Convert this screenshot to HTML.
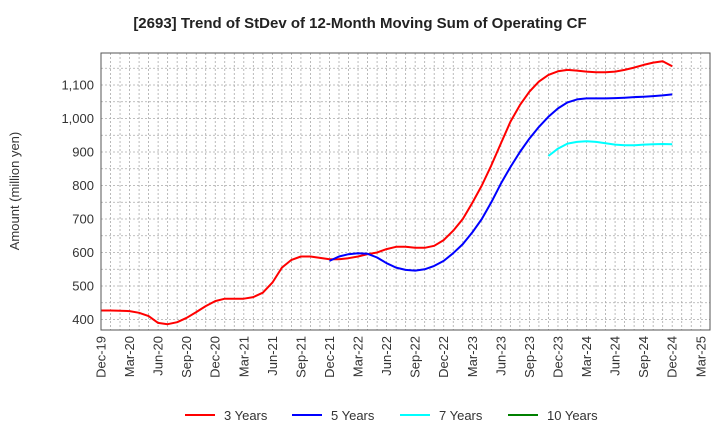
<!DOCTYPE html>
<html><head><meta charset="utf-8"><style>
body{margin:0;background:#fff;font-family:"Liberation Sans",Arial,sans-serif;}
svg text{font-family:"Liberation Sans",Arial,sans-serif;}
</style></head><body>
<svg id="chart" width="720" height="440" viewBox="0 0 720 440" xmlns="http://www.w3.org/2000/svg">
<text x="360" y="28" text-anchor="middle" font-size="15" font-weight="bold" fill="#222">[2693]  Trend of StDev of 12-Month Moving Sum of Operating CF</text>
<text transform="translate(19,191) rotate(-90)" text-anchor="middle" font-size="13" fill="#333">Amount (million yen)</text>
<g id="grid"></g>
<g id="yticks"></g>
<g id="xticks"></g>
<g id="series"></g>
<rect x="101" y="53" width="609" height="277" fill="none" stroke="#555" stroke-width="1"/>
<g font-size="13" fill="#333">
<g><line x1="185" y1="415" x2="215" y2="415" stroke="#ff0000" stroke-width="2"/><text x="224" y="420">3 Years</text></g>
<g><line x1="292" y1="415" x2="322" y2="415" stroke="#0000ff" stroke-width="2"/><text x="331" y="420">5 Years</text></g>
<g><line x1="400" y1="415" x2="430" y2="415" stroke="#00ffff" stroke-width="2"/><text x="439" y="420">7 Years</text></g>
<g><line x1="508" y1="415" x2="538" y2="415" stroke="#008000" stroke-width="2"/><text x="547" y="420">10 Years</text></g>
</g>
</svg>
<script>
const xTickLabels=["Dec-19","Mar-20","Jun-20","Sep-20","Dec-20","Mar-21","Jun-21","Sep-21","Dec-21","Mar-22","Jun-22","Sep-22","Dec-22","Mar-23","Jun-23","Sep-23","Dec-23","Mar-24","Jun-24","Sep-24","Dec-24","Mar-25"];
const yTickValues=[400,500,600,700,800,900,1000,1100];
const yTickLabels=["400","500","600","700","800","900","1,000","1,100"];
const red3Start=0;
const red3=[427,427,426,425,420,410,390,386,392,405,422,440,455,462,462,462,467,480,510,555,578,588,588,584,580,580,583,588,595,600,610,617,617,614,614,620,637,665,700,748,800,860,925,990,1040,1080,1110,1130,1141,1145,1143,1140,1138,1138,1140,1145,1152,1160,1167,1171,1156];
const blue5Start=24;
const blue5=[575,588,595,598,596,585,568,555,548,546,550,560,575,598,625,660,700,750,805,855,900,940,975,1005,1030,1048,1057,1060,1060,1060,1061,1062,1064,1065,1067,1069,1072];
const cyan7Start=47;
const cyan7=[888,910,925,930,932,930,926,922,920,920,922,923,924,923];
const green10Start=0;
const green10=[];

const NS="http://www.w3.org/2000/svg";
const X0=101,X1=710,Y0=53,Y1=330;
const monthW=9.52;
function xs(m){return X0+monthW*m;}
function ys(v){return 319.5-(v-400)*(234.5/700);}
const grid=document.getElementById('grid');
for(let m=0;xs(m)<X1;m++){
  const l=document.createElementNS(NS,'line');
  
  
  const x=xs(m);
  l.setAttribute('x1',x);l.setAttribute('x2',x);l.setAttribute('y1',Y0);l.setAttribute('y2',Y1);
  l.setAttribute('stroke','#aaa');l.setAttribute('stroke-dasharray','2,2');l.setAttribute('stroke-width','0.8');
  grid.appendChild(l);
}
for(let v=400;v<=1150;v+=50){
  const y=ys(v); if(y<Y0) continue;
  const l=document.createElementNS(NS,'line');
  
  
  l.setAttribute('x1',X0);l.setAttribute('x2',X1);l.setAttribute('y1',y);l.setAttribute('y2',y);
  l.setAttribute('stroke','#aaa');l.setAttribute('stroke-dasharray','2,2');l.setAttribute('stroke-width','0.8');
  grid.appendChild(l);
}
const yt=document.getElementById('yticks');
yTickValues.forEach((v,i)=>{
  const t=document.createElementNS(NS,'text');
  
  
  t.setAttribute('x',94);t.setAttribute('y',ys(v)+4.5);t.setAttribute('text-anchor','end');
  t.setAttribute('font-size','13');t.setAttribute('fill','#333');
  t.textContent=yTickLabels[i];yt.appendChild(t);
});
const xt=document.getElementById('xticks');
xTickLabels.forEach((s,i)=>{
  const t=document.createElementNS(NS,'text');
  
  
  const x=xs(i*3);
  t.setAttribute('transform','translate('+(x+4.5)+',336) rotate(-90)');
  t.setAttribute('text-anchor','end');t.setAttribute('font-size','13');t.setAttribute('fill','#333');
  t.textContent=s;xt.appendChild(t);
});
const ser=document.getElementById('series');
function draw(vals,start,color,name){
  if(!vals.length) return;
  const p=document.createElementNS(NS,'polyline');
  
  
  p.setAttribute('points',vals.map((v,i)=>xs(start+i).toFixed(1)+','+ys(v).toFixed(1)).join(' '));
  p.setAttribute('fill','none');p.setAttribute('stroke',color);p.setAttribute('stroke-width','2');
  p.setAttribute('stroke-linejoin','round');
  ser.appendChild(p);
}
draw(red3,red3Start,'#ff0000','line-3-years');
draw(blue5,blue5Start,'#0000ff','line-5-years');
draw(cyan7,cyan7Start,'#00ffff','line-7-years');
draw(green10,green10Start,'#008000','line-10-years');
</script>
</body></html>
